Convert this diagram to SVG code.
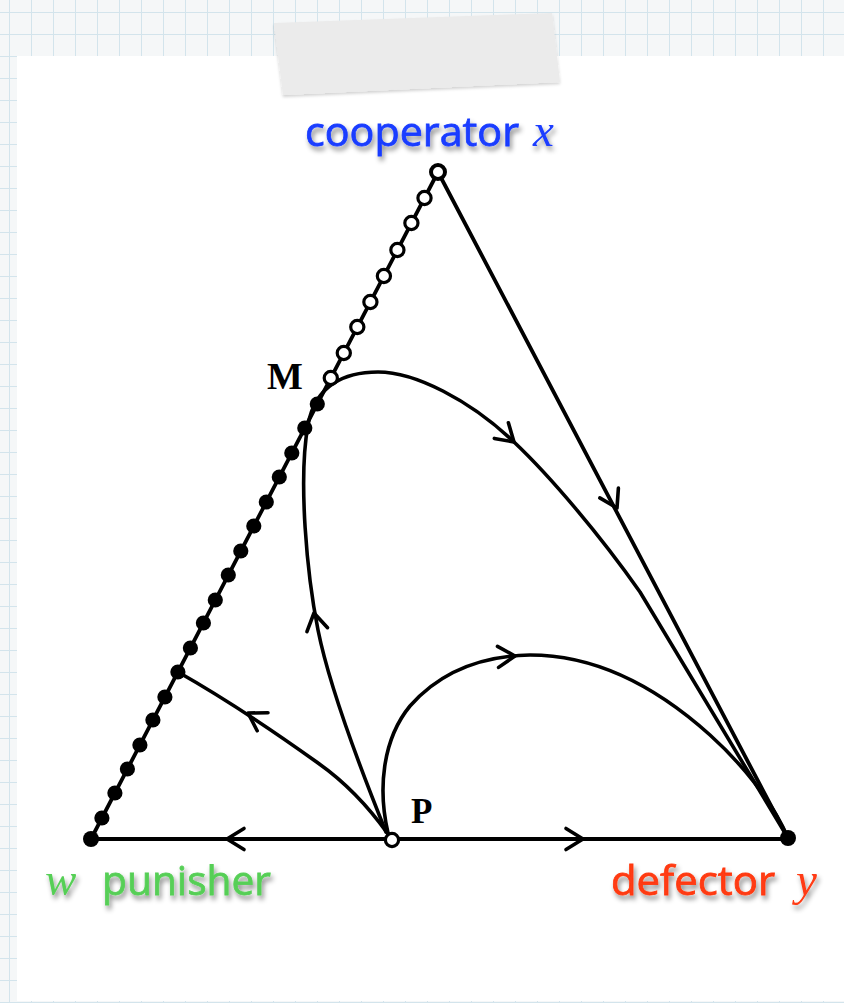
<svg xmlns="http://www.w3.org/2000/svg" xmlns:xlink="http://www.w3.org/1999/xlink" width="844" height="1003" viewBox="0 0 844 1003">
  <style>
    .edge { fill: none; stroke: #000; stroke-width: 3.8; stroke-linecap: round; stroke-linejoin: round; }
    .flow { fill: none; stroke: #000; stroke-width: 3.6; stroke-linecap: round; stroke-linejoin: round; }
    .chev { fill: none; stroke: #000; stroke-width: 3.6; stroke-linecap: round; stroke-linejoin: round; }
    .fdot { fill: #000; stroke: none; }
    .odot { fill: #fff; stroke: #000; stroke-width: 3.2; }
    .sans { font-family: "Open Sans", "Noto Sans", "Liberation Sans", sans-serif; font-size: 41px; stroke-width: 0.8; }
    .ital { font-family: "Liberation Serif", "DejaVu Serif", serif; font-style: italic; font-size: 47px; }
    .bold { font-family: "Liberation Serif", "DejaVu Serif", serif; font-weight: bold; fill: #000; }
    .blue { fill: #1a3cff; stroke: #1a3cff; }
    .green { fill: #57cf57; stroke: #57cf57; }
    .red { fill: #ff3a12; stroke: #ff3a12; }
    .grid { stroke: #d3e4ec; stroke-width: 1; }
  </style>
  <defs>
    <pattern id="gridpat" x="0" y="0" width="22" height="22" patternUnits="userSpaceOnUse">
      <rect width="22" height="22" fill="#f5f7f8"/>
      <line class="grid" x1="9.5" y1="0" x2="9.5" y2="22"/>
      <line class="grid" x1="0" y1="12.5" x2="22" y2="12.5"/>
    </pattern>
    <filter id="tshadow" x="-10%" y="-30%" width="120%" height="170%">
      <feDropShadow dx="2" dy="4" stdDeviation="2.5" flood-color="#000" flood-opacity="0.45"/>
    </filter>
    <filter id="tapeshadow" x="-10%" y="-20%" width="120%" height="150%">
      <feDropShadow dx="0" dy="2" stdDeviation="1.5" flood-color="#000" flood-opacity="0.18"/>
    </filter>
    <path id="chevron" class="chev" d="M -17,-10.5 L 0,0 L -17,10.5"/>
  </defs>

  <!-- background paper -->
  <rect x="0" y="0" width="844" height="1003" fill="url(#gridpat)"/>
  <rect x="17" y="56" width="827" height="945" fill="#ffffff"/>
  <polygon points="274,23 552,13 560,82 283,95" fill="#ebebeb" filter="url(#tapeshadow)"/>

  <!-- connectors -->
  <g id="connectors">
    <line class="edge" x1="91" y1="839" x2="438" y2="172"/>
    <line class="edge" x1="438" y1="172" x2="788" y2="838"/>
    <line class="edge" x1="91" y1="839" x2="788" y2="839"/>
    <path class="flow" d="M 388,834 C 368,806 345,782 318,763 C 290,743 240,707 178,672"/>
    <path class="flow" d="M 386,832 C 365,780 330,690 318,630 C 307,575 298,480 308,425 C 315,385 345,372 378,372 C 415,372 470,400 514,442 C 550,476 600,535 640,592 L 788,838"/>
    <path class="flow" d="M 388,833 C 378,790 382,740 410,706 C 440,672 480,656 530,655 C 600,655 660,690 710,735 C 740,762 772,800 788,838"/>
    <use xlink:href="#chevron" transform="translate(617,508) rotate(62.3)"/>
    <use xlink:href="#chevron" transform="translate(227,839) rotate(180)"/>
    <use xlink:href="#chevron" transform="translate(583,839)"/>
    <use xlink:href="#chevron" transform="translate(248,713) rotate(211)"/>
    <use xlink:href="#chevron" transform="translate(314,613) rotate(259)"/>
    <use xlink:href="#chevron" transform="translate(514,442) rotate(42)"/>
    <use xlink:href="#chevron" transform="translate(515,656) rotate(-3)"/>
  </g>

  <!-- fixed points along the w-x edge -->
  <g id="edge-dots">
    <circle class="fdot" cx="101.9" cy="818" r="7.6"/>
    <circle class="fdot" cx="114.9" cy="793" r="7.6"/>
    <circle class="fdot" cx="127.4" cy="769" r="7.6"/>
    <circle class="fdot" cx="139.9" cy="745" r="7.6"/>
    <circle class="fdot" cx="152.9" cy="720" r="7.6"/>
    <circle class="fdot" cx="164.9" cy="697" r="7.6"/>
    <circle class="fdot" cx="177.9" cy="672" r="7.6"/>
    <circle class="fdot" cx="190.4" cy="648" r="7.6"/>
    <circle class="fdot" cx="203.4" cy="623" r="7.6"/>
    <circle class="fdot" cx="215.3" cy="600" r="7.6"/>
    <circle class="fdot" cx="228.3" cy="575" r="7.6"/>
    <circle class="fdot" cx="240.8" cy="551" r="7.6"/>
    <circle class="fdot" cx="253.8" cy="526" r="7.6"/>
    <circle class="fdot" cx="266.3" cy="502" r="7.6"/>
    <circle class="fdot" cx="279.3" cy="477" r="7.6"/>
    <circle class="fdot" cx="291.8" cy="453" r="7.6"/>
    <circle class="fdot" cx="304.8" cy="428" r="7.6"/>
    <circle class="fdot" cx="317.3" cy="404" r="7.6"/>
    <circle class="odot" cx="343.8" cy="353" r="6.6"/>
    <circle class="odot" cx="357.3" cy="327" r="6.6"/>
    <circle class="odot" cx="370.4" cy="302" r="6.6"/>
    <circle class="odot" cx="383.9" cy="276" r="6.6"/>
    <circle class="odot" cx="397.4" cy="250" r="6.6"/>
    <circle class="odot" cx="411.4" cy="223" r="6.6"/>
    <circle class="odot" cx="424.5" cy="198" r="6.6"/>
  </g>

  <g id="node-M">
    <circle class="odot" cx="330.8" cy="378" r="6.6"/>
    <text class="bold" x="267" y="389" font-size="38">M</text>
  </g>

  <g id="node-P">
    <circle class="odot" cx="392" cy="840" r="6.6"/>
    <text class="bold" x="411" y="823" font-size="35">P</text>
  </g>

  <g id="vertex-x">
    <circle cx="438" cy="172" r="7" fill="#fff" stroke="#000" stroke-width="4"/>
    <g filter="url(#tshadow)">
      <text class="sans blue" x="305" y="146" textLength="214" lengthAdjust="spacingAndGlyphs">cooperator</text>
      <text class="ital" x="533" y="146" fill="#1a3cff">x</text>
    </g>
  </g>

  <g id="vertex-w">
    <circle class="fdot" cx="91" cy="839" r="8"/>
    <g filter="url(#tshadow)">
      <text class="ital" x="45" y="895" fill="#57cf57">w</text>
      <text class="sans green" x="102" y="895" textLength="169" lengthAdjust="spacingAndGlyphs">punisher</text>
    </g>
  </g>

  <g id="vertex-y">
    <circle class="fdot" cx="788" cy="838" r="8"/>
    <g filter="url(#tshadow)">
      <text class="sans red" x="611" y="895" textLength="164" lengthAdjust="spacingAndGlyphs">defector</text>
      <text class="ital" x="796" y="895" fill="#ff3a12">y</text>
    </g>
  </g>
</svg>
